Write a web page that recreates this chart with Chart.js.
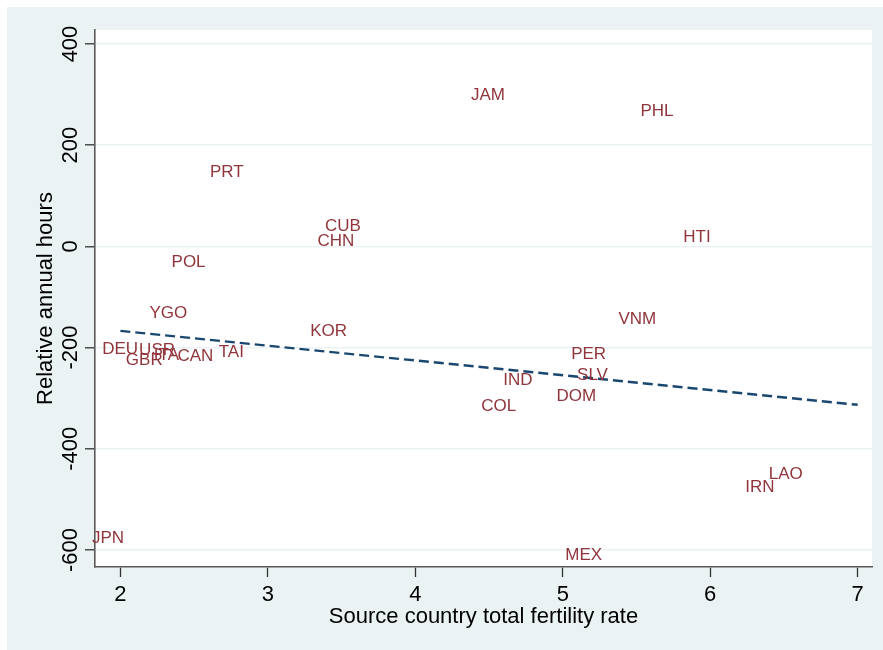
<!DOCTYPE html>
<html lang="en">
<head>
    <meta charset="UTF-8">
    <title>Relative annual hours vs fertility</title>
    <script src="https://cdn.jsdelivr.net/npm/chart.js"></script>
    <style>
        html, body { margin: 0; padding: 0; background: #ffffff; }
        #wrap {
            position: absolute; left: 7px; top: 7px;
            width: 876px; height: 643px;
            background: #eaf2f3;
        }
    </style>
</head>
<body>
    <div id="wrap"><canvas id="chart"></canvas></div>

    <script>
        // source countries, fertility rate (x) and relative annual hours (y)
        const countries = ['JPN', 'DEU', 'USR', 'GBR', 'ITA', 'CAN', 'TAI', 'YGO', 'POL', 'PRT', 'CUB', 'CHN', 'KOR',
            'JAM', 'PHL', 'HTI', 'VNM', 'PER', 'SLV', 'IND', 'DOM', 'COL', 'LAO', 'IRN', 'MEX'];
        const fertility = [1.78, 1.85, 2.10, 2.01, 2.20, 2.36, 2.64, 2.17, 2.32, 2.58, 3.36, 3.31, 3.26,
            4.35, 5.50, 5.79, 5.35, 5.03, 5.07, 4.57, 4.93, 4.42, 6.37, 6.21, 4.99];
        const hours = [-574, -200, -203, -223, -212, -214, -206, -129, -29, 150, 42, 13, -165,
            302, 270, 21, -141, -210, -253, -263, -293, -313, -448, -473, -608];

        // fitted line end points
        const fitX = [2, 7];
        const fitY = [-167, -313];

        const xTicks = [2, 3, 4, 5, 6, 7];
        const yTicks = [-600, -400, -200, 0, 200, 400];

        const FONT = '"Liberation Sans", Arial, Helvetica, sans-serif';
        const labelColor = '#90353b';

        const textPlugin = {
            id: 'stataText',
            afterDatasetsDraw(chart) {
                const ctx = chart.ctx;
                const xs = chart.scales.x, ys = chart.scales.y;
                const area = chart.chartArea;
                ctx.save();

                // marker labels
                ctx.font = '17px ' + FONT;
                ctx.fillStyle = labelColor;
                ctx.textAlign = 'left';
                ctx.textBaseline = 'alphabetic';
                const meta = chart.getDatasetMeta(0);
                meta.data.forEach((pt, i) => {
                    ctx.fillText(countries[i], pt.x + 4, pt.y + 6);
                });

                // tick labels
                ctx.fillStyle = '#000000';
                ctx.font = '22px ' + FONT;
                ctx.textAlign = 'center';
                xTicks.forEach(v => {
                    ctx.fillText(String(v), xs.getPixelForValue(v), area.bottom + 34);
                });
                yTicks.forEach(v => {
                    ctx.save();
                    ctx.translate(area.left - 18, ys.getPixelForValue(v));
                    ctx.rotate(-Math.PI / 2);
                    ctx.fillText(String(v), 0, 0);
                    ctx.restore();
                });

                // axis titles
                ctx.fillText('Source country total fertility rate', (area.left + area.right) / 2, area.bottom + 56);
                ctx.save();
                ctx.translate(area.left - 43, (area.top + area.bottom) / 2);
                ctx.rotate(-Math.PI / 2);
                ctx.fillText('Relative annual hours', 0, 0);
                ctx.restore();

                ctx.restore();
            }
        };

        const plotBg = {
            id: 'plotBg',
            beforeDraw(chart) {
                const a = chart.chartArea;
                chart.ctx.save();
                chart.ctx.fillStyle = '#ffffff';
                chart.ctx.fillRect(a.left, a.top, a.right - a.left, a.bottom - a.top);
                chart.ctx.restore();
            }
        };

        new Chart(document.getElementById('chart'), {
            type: 'scatter',
            data: {
                datasets: [{
                    label: 'Relative annual hours',
                    data: fertility.map((f, i) => ({ x: f, y: hours[i] })),
                    pointRadius: 0,
                    pointHoverRadius: 0
                }, {
                    label: 'Fitted values',
                    data: fitX.map((f, i) => ({ x: f, y: fitY[i] })),
                    showLine: true,
                    borderColor: '#1a476f',
                    borderWidth: 2.4,
                    borderDash: [10, 5],
                    pointRadius: 0,
                    fill: false
                }]
            },
            options: {
                responsive: true,
                maintainAspectRatio: false,
                animation: false,
                layout: { padding: { left: 0, top: 23, right: 11, bottom: 0 } },
                plugins: {
                    legend: { display: false },
                    tooltip: { enabled: false }
                },
                scales: {
                    x: {
                        type: 'linear',
                        min: 1.828,
                        max: 7.097,
                        afterBuildTicks: s => { s.ticks = xTicks.map(v => ({ value: v })); },
                        afterFit: s => { s.height = 83; },
                        ticks: { display: false },
                        grid: {
                            drawOnChartArea: false,
                            drawTicks: true,
                            tickLength: 10,
                            tickColor: '#333333',
                            tickWidth: 1.3
                        },
                        border: { display: true, color: '#5a5a5a', width: 1.6 }
                    },
                    y: {
                        type: 'linear',
                        min: -633.6,
                        max: 427.7,
                        afterBuildTicks: s => { s.ticks = yTicks.map(v => ({ value: v })); },
                        afterFit: s => { s.width = 88; },
                        ticks: { display: false },
                        grid: {
                            color: '#eaf2f3',
                            lineWidth: 1.6,
                            drawTicks: true,
                            tickLength: 10,
                            tickColor: '#333333',
                            tickWidth: 1.3
                        },
                        border: { display: true, color: '#5a5a5a', width: 1.6 }
                    }
                }
            },
            plugins: [plotBg, textPlugin]
        });
    </script>
</body>
</html>
